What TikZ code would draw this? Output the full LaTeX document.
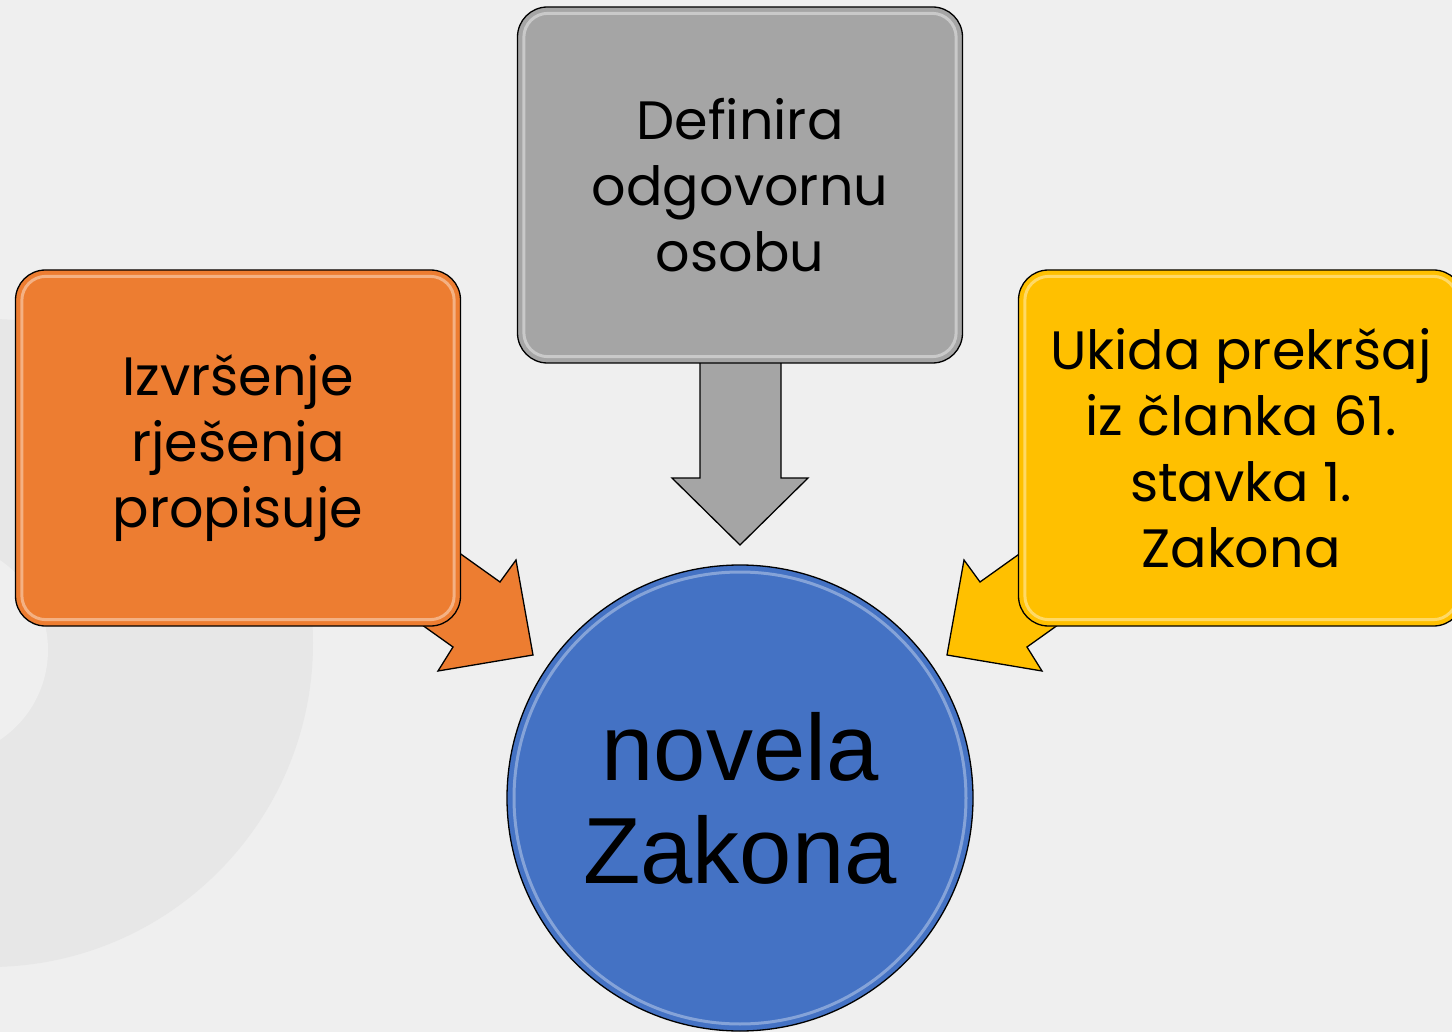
\documentclass[tikz,border=0pt]{standalone}
\usepackage{fontspec}
\setmainfont{Poppins}
\newfontfamily\circfont{Liberation Sans}
\definecolor{bgc}{RGB}{239,239,239}
\definecolor{ringc}{RGB}{231,231,231}
\definecolor{grayc}{RGB}{165,165,165}
\definecolor{orangec}{RGB}{237,125,49}
\definecolor{yellowc}{RGB}{255,192,0}
\definecolor{bluec}{RGB}{68,114,196}
\begin{document}
\begin{tikzpicture}[x=1pt,y=-1pt,
  box/.style={draw=black, line width=1.3pt, rounded corners=30pt,
    minimum width=445pt, minimum height=356pt, align=center, inner sep=0pt,
    font=\fontsize{54}{66}\selectfont},
  barrow/.style={draw=black, line width=1.3pt, line join=miter},
  shine/.style={draw=white, opacity=0.4, line width=3pt, rounded corners=24pt},
]
\useasboundingbox (0,0) rectangle (1452,1032);
\clip (0,0) rectangle (1452,1032);
\fill[bgc] (0,0) rectangle (1452,1032);
% faint background ring
\fill[ringc] (-11,643) circle[radius=324pt];
\fill[bgc] (-60,650) circle[radius=108pt];
% block arrows
\draw[barrow, fill=grayc] (700,330) -- (700,478) -- (672,478) -- (740,545)
  -- (808,478) -- (781,478) -- (781,330) -- cycle;
\draw[barrow, fill=orangec] (378,495) -- (500,582) -- (516,560) -- (533,655)
  -- (438,671) -- (453,647) -- (331,560) -- cycle;
\draw[barrow, fill=yellowc] (1102,495) -- (980,582) -- (964,560) -- (947,655)
  -- (1042,671) -- (1027,647) -- (1149,560) -- cycle;
% boxes
\node[box, fill=grayc] (g) at (740,185) {Definira\\odgovornu\\osobu};
\node[box, fill=orangec] (o) at (238,448) {Izvršenje\\rješenja\\propisuje};
\node[box, fill=yellowc] (y) at (1241,448)
  {Ukida prekršaj\\iz članka 61.\\stavka 1.\\Zakona};
\foreach \n in {g,o,y}{
  \draw[shine] ([shift={(7,7)}]\n.north west) rectangle ([shift={(-7,-7)}]\n.south east);
}
% central circle
\node[circle, draw=black, line width=1.3pt, fill=bluec, minimum size=466pt,
  inner sep=0pt, align=center, font=\circfont\fontsize{94}{103}\selectfont]
  (c) at (740,798) {novela\\Zakona};
\draw[white, opacity=0.35, line width=3pt] (c.center) circle[radius=226pt];
\end{tikzpicture}
\end{document}
